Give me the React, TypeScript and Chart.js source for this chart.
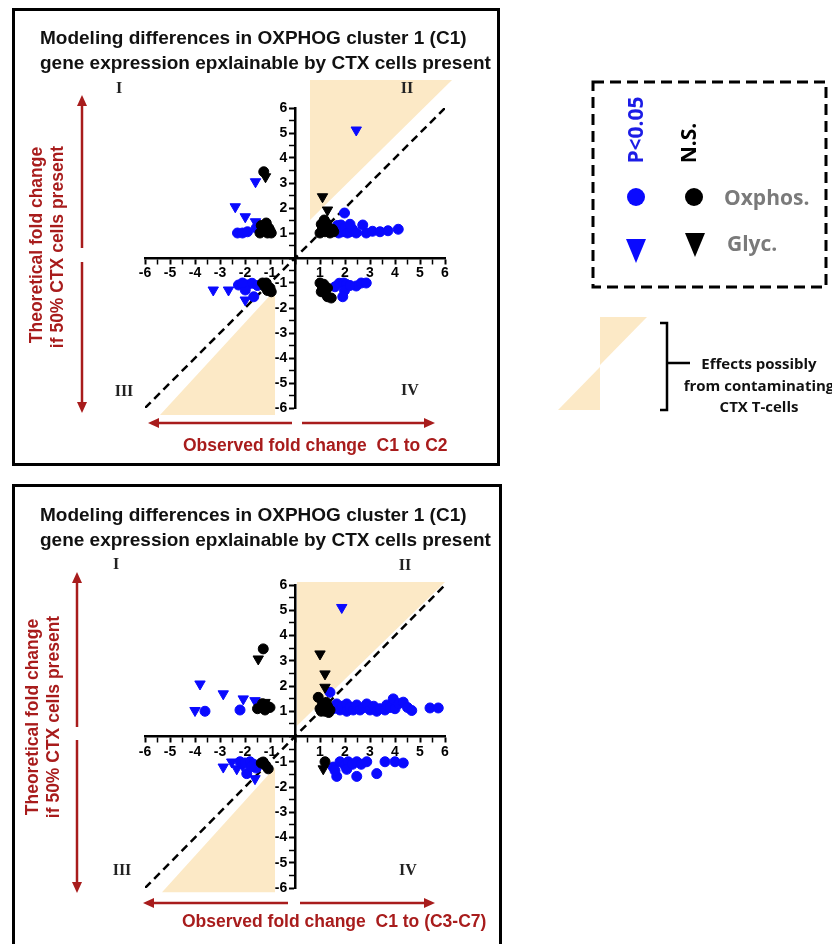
import React, { useEffect, useRef } from 'react';
import { Chart, registerables } from 'chart.js';

Chart.register(...registerables);

type Pt = [number, number];

// ---------- Top panel: observed C1 -> C2 ----------
const c2SigOxphos: Pt[] = [
  [-2.3, 1.0], [-2.1, 1.0], [-1.9, 1.05], [-1.55, 1.2],
  [1.98, 1.8], [1.84, 1.32], [1.6, 1.1], [1.7, 1.3], [1.75, 1.0], [1.9, 1.05], [2.0, 1.2], [2.1, 1.0],
  [2.2, 1.05], [2.3, 1.15], [2.2, 1.35], [2.45, 1.0], [2.71, 1.32], [2.85, 1.0], [3.1, 1.07], [3.4, 1.05],
  [3.72, 1.09], [4.13, 1.15],
  [-2.26, -1.08], [-1.72, -1.01], [-1.65, -1.55], [-1.99, -1.28], [-1.5, -1.1], [-2.1, -1.0],
  [1.6, -1.15], [1.77, -1.01], [1.95, -1.0], [2.05, -1.05], [1.98, -1.3], [1.91, -1.55], [2.45, -1.12],
  [2.65, -1.0], [2.85, -1.0], [2.2, -1.1],
];
const c2SigGlyc: Pt[] = [
  [2.45, 5.12], [-1.58, 3.05], [-2.39, 2.05], [-1.99, 1.65], [-1.58, 1.45],
  [-3.27, -1.28], [-2.66, -1.28], [-1.99, -1.68], [-1.8, -1.0], [-1.55, -1.05],
];
const c2NsOxphos: Pt[] = [
  [-1.25, 3.45], [-1.4, 1.0], [-1.3, 1.1], [-1.2, 1.25], [-1.1, 1.0], [-1.0, 1.1], [-1.35, 1.3], [-1.15, 1.4],
  [-1.05, 1.2], [-0.95, 1.0],
  [1.17, 1.52], [1.0, 1.0], [1.1, 1.2], [1.2, 1.05], [1.3, 1.25], [1.4, 1.0], [1.5, 1.15], [1.05, 1.35],
  [1.25, 1.4], [1.55, 1.05],
  [-1.3, -1.0], [-1.2, -1.15], [-1.1, -1.3], [-1.0, -1.2], [-0.95, -1.35], [-1.15, -1.0],
  [1.0, -1.0], [1.1, -1.2], [1.05, -1.35], [1.2, -1.4], [1.3, -1.55], [1.45, -1.6], [1.15, -1.05], [1.3, -1.2],
];
const c2NsGlyc: Pt[] = [[-1.18, 3.25], [1.1, 2.45], [1.3, 1.92]];
const c2ShadeUpper: Pt[] = [[0.6, 1.52], [0.6, 7.12], [6.28, 7.12]];
const c2ShadeLower: Pt[] = [[-5.4, -6.28], [-0.8, -6.28], [-0.8, -1.28]];

// ---------- Bottom panel: observed C1 -> (C3-C7) ----------
const c37SigOxphos: Pt[] = [
  [-3.6, 1.0], [-2.2, 1.05],
  [1.4, 1.75], [1.53, 1.1], [1.67, 1.29], [1.8, 1.05], [1.9, 1.2], [2.07, 1.29], [2.07, 1.0], [2.2, 1.15],
  [2.33, 1.05], [2.47, 1.25], [2.6, 1.05], [2.75, 1.15], [2.87, 1.29], [3.0, 1.05], [3.15, 1.2], [3.27, 1.0],
  [3.4, 1.1], [3.6, 1.05], [3.67, 1.25], [3.8, 1.15], [3.93, 1.49], [4.0, 1.1], [4.15, 1.3], [4.33, 1.36],
  [4.5, 1.15], [4.67, 1.03], [5.4, 1.13], [5.73, 1.13],
  [-2.2, -1.0], [-1.93, -1.47], [-2.0, -1.05], [-1.8, -1.0], [-1.65, -1.1], [-1.55, -1.25], [-1.75, -1.2],
  [1.53, -1.21], [1.67, -1.58], [1.8, -1.0], [2.0, -1.15], [2.13, -1.0], [2.07, -1.3], [2.3, -1.1],
  [2.47, -1.0], [2.47, -1.58], [2.65, -1.1], [2.87, -1.0], [3.27, -1.47], [3.6, -1.0], [4.0, -1.0],
  [4.33, -1.05], [1.6, -1.35],
];
const c37SigGlyc: Pt[] = [
  [-3.8, 2.08], [-2.87, 1.69], [-2.07, 1.49], [-1.6, 1.42], [-4.0, 1.03], [1.87, 5.11],
  [-2.87, -1.21], [-2.53, -1.01], [-2.33, -1.28], [-1.6, -1.67], [-2.1, -1.15],
];
const c37NsOxphos: Pt[] = [
  [-1.27, 3.47], [-1.5, 1.1], [-1.35, 1.15], [-1.2, 1.05], [-1.1, 1.2], [-1.0, 1.15], [-1.3, 1.3],
  [0.93, 1.55], [1.0, 1.1], [1.1, 1.3], [1.2, 1.0], [1.3, 1.2], [1.4, 1.05], [1.05, 1.0], [1.25, 1.35],
  [1.35, 0.95],
  [-1.27, -1.01], [-1.07, -1.28], [-1.17, -1.15], [-1.35, -1.05],
  [1.2, -1.0],
];
const c37NsGlyc: Pt[] = [[-1.47, 3.07], [-1.2, 1.35], [1.0, 3.27], [1.2, 2.48], [1.2, 1.95], [1.13, -1.28]];
const c37ShadeUpper: Pt[] = [[0.08, 0.43], [0.08, 6.12], [6.0, 6.12]];
const c37ShadeLower: Pt[] = [[-5.32, -6.17], [-0.8, -6.17], [-0.8, -1.23]];

// ---------- shared ----------
const AXIS_MIN = -6;
const AXIS_MAX = 6;
const TICK_STEP = 0.5;
const identityLine: Pt[] = [[-6, -6], [6, 6]];

const BLUE = '#0a0aff';
const BLACK = '#000000';
const SHADE = '#fce9c6';
const RED = '#a81c1c';

const shadePlugin = {
  id: 'contamShade',
  beforeDraw(chart: any, _args: any, opts: any) {
    const { ctx, scales } = chart;
    const xs = scales.x;
    const ys = scales.y;
    ctx.save();
    ctx.fillStyle = opts.color;
    (opts.polygons as Pt[][]).forEach((poly) => {
      ctx.beginPath();
      poly.forEach(([vx, vy], i) => {
        const px = xs.getPixelForValue(vx);
        const py = ys.getPixelForValue(vy);
        if (i === 0) ctx.moveTo(px, py);
        else ctx.lineTo(px, py);
      });
      ctx.closePath();
      ctx.fill();
    });
    ctx.restore();
  },
};

const toXY = (pts: Pt[]) => pts.map(([x, y]) => ({ x, y }));

function axis(which: 'x' | 'y') {
  return {
    type: 'linear',
    min: AXIS_MIN,
    max: AXIS_MAX,
    position: which === 'x' ? { y: 0 } : { x: 0 },
    grid: {
      display: true,
      drawOnChartArea: false,
      drawTicks: true,
      tickLength: 5,
      tickColor: '#000',
      tickWidth: (c: any) => (c.tick && Number.isInteger(c.tick.value) ? 2 : 1.5),
    },
    border: { display: true, color: '#000', width: 2.5 },
    ticks: {
      stepSize: TICK_STEP,
      autoSkip: false,
      maxRotation: 0,
      minRotation: 0,
      padding: 2,
      color: '#000',
      font: { family: 'Liberation Sans', size: 14, weight: 'bold' },
      callback: (v: number) => {
        if (!Number.isInteger(v) || v === 0) return '';
        // y labels sit to the left of the tick marks
        return which === 'y' ? `${v}  ` : String(v);
      },
    },
    afterFit: (s: any) => {
      s.paddingLeft = 0;
      s.paddingRight = 0;
      s.paddingTop = 0;
      s.paddingBottom = 0;
      if (which === 'x') s.height = 0;
      else s.width = 0;
    },
  };
}

function buildConfig(
  sigOx: Pt[], sigGl: Pt[], nsOx: Pt[], nsGl: Pt[], shade: Pt[][],
  padding: { left: number; right: number; top: number; bottom: number },
): any {
  return {
    type: 'scatter',
    data: {
      datasets: [
        {
          label: 'N.S. Oxphos.', data: toXY(nsOx), pointStyle: 'circle', pointRadius: 5,
          backgroundColor: BLACK, borderColor: BLACK, borderWidth: 1, order: 1,
        },
        {
          label: 'N.S. Glyc.', data: toXY(nsGl), pointStyle: 'triangle', rotation: 180, pointRadius: 6,
          backgroundColor: BLACK, borderColor: BLACK, borderWidth: 1, order: 1,
        },
        {
          label: 'P<0.05 Oxphos.', data: toXY(sigOx), pointStyle: 'circle', pointRadius: 5,
          backgroundColor: BLUE, borderColor: BLUE, borderWidth: 1, order: 2,
        },
        {
          label: 'P<0.05 Glyc.', data: toXY(sigGl), pointStyle: 'triangle', rotation: 180, pointRadius: 6,
          backgroundColor: BLUE, borderColor: BLUE, borderWidth: 1, order: 2,
        },
        {
          type: 'line', label: 'y = x', data: toXY(identityLine), showLine: true, pointRadius: 0,
          borderColor: BLACK, borderWidth: 2.5, borderDash: [8, 5], fill: false, order: 5,
        },
      ],
    },
    options: {
      responsive: false,
      animation: false,
      devicePixelRatio: 1,
      layout: { padding },
      scales: { x: axis('x'), y: axis('y') },
      plugins: {
        legend: { display: false },
        tooltip: { enabled: false },
        contamShade: { polygons: shade, color: SHADE },
      },
    },
    plugins: [shadePlugin],
  };
}

type LabelProps = {
  x: number; y: number; children: React.ReactNode; rot?: number; align?: 'left' | 'center';
  style?: React.CSSProperties;
};
const Label = ({ x, y, children, rot = 0, align = 'center', style }: LabelProps) => (
  <div
    style={{
      position: 'absolute', left: x, top: y, whiteSpace: 'pre', lineHeight: 1,
      transform: `translate(${align === 'left' ? '0' : '-50%'}, -50%) rotate(${rot}deg)`,
      ...style,
    }}
  >
    {children}
  </div>
);

const titleStyle: React.CSSProperties = {
  fontFamily: 'Liberation Sans', fontWeight: 700, fontSize: 19, color: '#111',
};
const redStyle: React.CSSProperties = {
  fontFamily: 'Liberation Sans', fontWeight: 700, fontSize: 17.5, color: RED,
};
const quadStyle: React.CSSProperties = {
  fontFamily: 'Liberation Serif', fontWeight: 700, fontSize: 16, color: '#222',
};
const legStyle: React.CSSProperties = {
  fontFamily: 'Open Sans', fontWeight: 700, fontSize: 21,
};
const noteStyle: React.CSSProperties = {
  fontFamily: 'Open Sans', fontWeight: 700, fontSize: 15, color: '#111',
};

function Arrow({ x1, y1, x2, y2 }: { x1: number; y1: number; x2: number; y2: number }) {
  const ang = Math.atan2(y2 - y1, x2 - x1);
  const L = 11;
  const W = 5;
  const bx = x2 - Math.cos(ang) * L;
  const by = y2 - Math.sin(ang) * L;
  const nx = -Math.sin(ang) * W;
  const ny = Math.cos(ang) * W;
  return (
    <g>
      <line x1={x1} y1={y1} x2={bx} y2={by} stroke={RED} strokeWidth={2.5} />
      <polygon points={`${x2},${y2} ${bx + nx},${by + ny} ${bx - nx},${by - ny}`} fill={RED} />
    </g>
  );
}

export default function App() {
  const topRef = useRef<HTMLCanvasElement>(null);
  const botRef = useRef<HTMLCanvasElement>(null);

  useEffect(() => {
    const a = new Chart(
      topRef.current as HTMLCanvasElement,
      buildConfig(c2SigOxphos, c2SigGlyc, c2NsOxphos, c2NsGlyc, [c2ShadeUpper, c2ShadeLower],
        { left: 45, right: 35, top: 48, bottom: 42 }),
    );
    const b = new Chart(
      botRef.current as HTMLCanvasElement,
      buildConfig(c37SigOxphos, c37SigGlyc, c37NsOxphos, c37NsGlyc, [c37ShadeUpper, c37ShadeLower],
        { left: 45, right: 35, top: 45, bottom: 42 }),
    );
    return () => {
      a.destroy();
      b.destroy();
    };
  }, []);

  return (
    <div style={{ position: 'absolute', left: 0, top: 0, width: 832, height: 944, overflow: 'hidden', background: '#fff' }}>
      {/* panel frames */}
      <div style={{ position: 'absolute', left: 12, top: 8, width: 488, height: 458, border: '3px solid #000', boxSizing: 'border-box' }} />
      <div style={{ position: 'absolute', left: 12, top: 484, width: 490, height: 480, border: '3px solid #000', boxSizing: 'border-box' }} />

      <canvas ref={topRef} width={380} height={390} style={{ position: 'absolute', left: 100, top: 60 }} />
      <canvas ref={botRef} width={380} height={390} style={{ position: 'absolute', left: 100, top: 540 }} />

      <svg width={832} height={944} style={{ position: 'absolute', left: 0, top: 0, pointerEvents: 'none' }}>
        {/* top panel arrows */}
        <Arrow x1={82} y1={248} x2={82} y2={95} />
        <Arrow x1={82} y1={262} x2={82} y2={413} />
        <Arrow x1={292} y1={423} x2={148} y2={423} />
        <Arrow x1={302} y1={423} x2={435} y2={423} />
        {/* bottom panel arrows */}
        <Arrow x1={77} y1={727} x2={77} y2={572} />
        <Arrow x1={77} y1={740} x2={77} y2={893} />
        <Arrow x1={288} y1={903} x2={143} y2={903} />
        <Arrow x1={300} y1={903} x2={435} y2={903} />

        {/* legend box */}
        <rect x={593} y={82} width={233} height={205} fill="none" stroke="#000" strokeWidth={3} strokeDasharray="11 6" />
        <circle cx={636} cy={197} r={9} fill={BLUE} />
        <circle cx={694} cy={197} r={9} fill={BLACK} />
        <polygon points="626,239 646,239 636,263" fill={BLUE} />
        <polygon points="685,233 705,233 695,257" fill={BLACK} />

        {/* contamination key */}
        <polygon points="600,317 647,317 600,365" fill={SHADE} />
        <polygon points="558,410 600,410 600,367" fill={SHADE} />
        <path d="M660,323 L667,323 L667,410 L660,410 M667,363 L690,363" fill="none" stroke="#000" strokeWidth={2.5} />
      </svg>

      {/* titles */}
      <Label x={40} y={37} align="left" style={titleStyle}>Modeling differences in OXPHOG cluster 1 (C1)</Label>
      <Label x={40} y={62} align="left" style={titleStyle}>gene expression epxlainable by CTX cells present</Label>
      <Label x={40} y={514} align="left" style={titleStyle}>Modeling differences in OXPHOG cluster 1 (C1)</Label>
      <Label x={40} y={539} align="left" style={titleStyle}>gene expression epxlainable by CTX cells present</Label>

      {/* quadrant labels */}
      <Label x={119} y={88} style={quadStyle}>I</Label>
      <Label x={407} y={88} style={quadStyle}>II</Label>
      <Label x={124} y={391} style={quadStyle}>III</Label>
      <Label x={410} y={390} style={quadStyle}>IV</Label>
      <Label x={116} y={564} style={quadStyle}>I</Label>
      <Label x={405} y={565} style={quadStyle}>II</Label>
      <Label x={122} y={870} style={quadStyle}>III</Label>
      <Label x={408} y={870} style={quadStyle}>IV</Label>

      {/* red axis descriptions */}
      <Label x={37} y={245} rot={-90} style={redStyle}>Theoretical fold change</Label>
      <Label x={58} y={247} rot={-90} style={redStyle}>if 50% CTX cells present</Label>
      <Label x={183} y={446} align="left" style={redStyle}>Observed fold change  C1 to C2</Label>
      <Label x={33} y={717} rot={-90} style={redStyle}>Theoretical fold change</Label>
      <Label x={54} y={717} rot={-90} style={redStyle}>if 50% CTX cells present</Label>
      <Label x={182} y={922} align="left" style={redStyle}>Observed fold change  C1 to (C3-C7)</Label>

      {/* legend text */}
      <Label x={635} y={130} rot={-90} style={{ ...legStyle, color: '#1c1ce6' }}>P&lt;0.05</Label>
      <Label x={688} y={143} rot={-90} style={{ ...legStyle, color: '#000' }}>N.S.</Label>
      <Label x={724} y={197} align="left" style={{ ...legStyle, color: '#7a7a7a' }}>Oxphos.</Label>
      <Label x={727} y={243} align="left" style={{ ...legStyle, color: '#7a7a7a' }}>Glyc.</Label>

      {/* contamination note */}
      <Label x={759} y={363} style={noteStyle}>Effects possibly</Label>
      <Label x={759} y={385} style={noteStyle}>from contaminating</Label>
      <Label x={759} y={406} style={noteStyle}>CTX T-cells</Label>
    </div>
  );
}
